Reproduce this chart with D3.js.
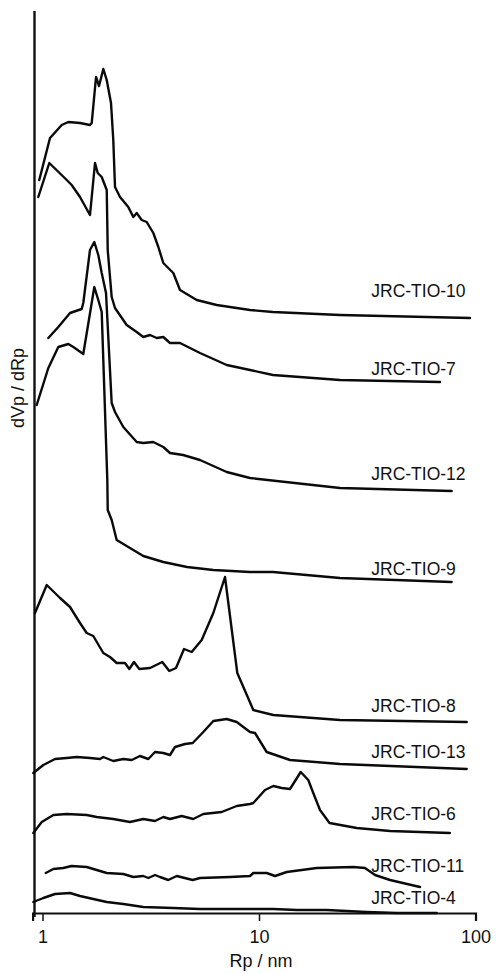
<!DOCTYPE html>
<html>
<head>
<meta charset="utf-8">
<script src="https://cdn.jsdelivr.net/npm/d3@7/dist/d3.min.js"></script>
<style>
  html, body { margin: 0; padding: 0; background: #fff; }
  svg { display: block; }
  text { font-family: "Liberation Sans", Arial, sans-serif; fill: #111; }
</style>
</head>
<body>
<svg id="chart" width="501" height="974"></svg>
<script>
// Pore size distributions, stacked (offset) curves: [Rp in nm, dVp/dRp + offset, arbitrary units]
const sampleNames = ["JRC-TIO-10", "JRC-TIO-7", "JRC-TIO-12", "JRC-TIO-9", "JRC-TIO-8",
                     "JRC-TIO-13", "JRC-TIO-6", "JRC-TIO-11", "JRC-TIO-4"];

const tio10 = [[0.966,733],[1.083,775],[1.227,788],[1.316,791],[1.49,790],[1.657,788],[1.688,790],
  [1.767,836],[1.824,827],[1.909,844],[1.98,833],[2.072,810],[2.123,773],[2.162,726],[2.28,716],
  [2.49,706],[2.627,696],[2.723,700],[2.872,693],[3.029,691],[3.25,680],[3.428,666],[3.614,650],
  [4.02,640],[4.316,623],[5.155,613],[6.377,608],[9.088,603],[11.6,601],[23.67,598],[94.3,595]];

const tio7 = [[0.956,716],[1.075,750],[1.294,733],[1.364,728],[1.49,716],[1.657,698],[1.748,750],
  [1.799,740],[1.877,736],[1.98,723],[2.001,663],[2.087,616],[2.162,605],[2.448,588],[2.723,581],
  [2.921,576],[3.138,578],[3.37,575],[3.614,576],[3.881,570],[4.316,570],[5.34,560],[7.093,548],
  [9.088,543],[11.6,538],[23.67,533],[68.55,531]];

const tio12 = [[1.064,575],[1.183,586],[1.34,600],[1.517,604],[1.543,610],[1.657,663],[1.735,671],
  [1.81,658],[1.877,640],[1.965,620],[2.087,510],[2.162,501],[2.362,486],[2.723,471],[2.921,470],
  [3.25,471],[3.614,466],[3.881,460],[4.46,458],[5.34,453],[7.093,441],[9.088,435],[23.67,425],
  [77.6,422]];

const tio9 = [[0.94,508],[1.064,545],[1.183,566],[1.316,569],[1.388,566],[1.543,559],[1.735,626],
  [1.81,613],[1.877,601],[1.992,433],[2.001,403],[2.087,393],[2.201,373],[2.627,363],[2.921,357],
  [3.614,351],[4.65,346],[6.151,343],[9.088,341],[11.6,341],[23.67,335],[77.6,331]];

const tio8 = [[0.923,300],[1.046,328],[1.205,315],[1.34,306],[1.49,290],[1.6,280],[1.716,277],
  [1.909,260],[2.05,256],[2.201,250],[2.405,250],[2.517,244],[2.646,251],[2.8,244],[3.138,245],
  [3.575,251],[3.852,242],[4.137,245],[4.505,264],[4.888,261],[5.437,273],[6.151,300],[6.966,336],
  [7.939,240],[9.413,203],[11.64,198],[23.67,193],[91.1,191]];

const tio13 = [[0.907,140],[1.009,148],[1.142,154],[1.294,155],[1.439,156],[1.657,155],[1.843,154],
  [1.909,156],[2.123,152],[2.362,154],[2.582,153],[2.82,157],[3.082,154],[3.308,161],[3.614,160],
  [3.881,158],[4.093,166],[4.552,169],[4.941,170],[5.53,181],[6.151,192],[7.093,194],[7.889,191],
  [9.088,181],[9.584,180],[10.85,161],[13.91,153],[23.67,149],[91.1,144]];

const tio6 = [[0.907,80],[0.992,91],[1.122,98],[1.294,99],[1.6,98],[1.78,96],[2.123,94],[2.536,91],
  [2.921,94],[3.308,92],[3.614,96],[3.881,94],[4.395,97],[4.971,94],[5.53,99],[6.725,101],
  [7.889,107],[9.088,109],[9.413,110],[10.66,123],[11.64,127],[12.73,125],[13.91,124],[15.58,141],
  [16.89,133],[17.81,120],[19.13,103],[21.17,90],[28.27,85],[40.29,82],[76.2,80]];

const tio11 = [[1.035,40],[1.122,44],[1.247,45],[1.364,47],[1.6,46],[1.78,43],[1.98,40],[2.362,39],
  [2.627,36],[2.921,37],[3.082,35],[3.308,38],[3.488,36],[3.811,33],[4.168,37],[4.941,33],
  [5.34,35],[7.346,36],[9.088,37],[9.413,40],[10.85,40],[11.86,37],[13.43,41],[18.47,45],
  [27.27,46],[30.87,45],[34.35,38],[40.29,33],[55.41,26]];

const tio4 = [[0.907,11],[1.009,15],[1.142,19],[1.34,20],[1.49,17],[1.716,14],[1.98,11],[2.362,9],
  [2.921,6],[4.0,5],[5.34,4],[9.088,4],[11.64,4],[14.94,3],[20.54,3],[31.45,1],[43.25,0],[66.2,0]];

const seriesValues = [tio10, tio7, tio12, tio9, tio8, tio13, tio6, tio11, tio4];

const majorTicks = [1, 10, 100];
const majorTickLabels = ["1", "10", "100"];
const minorTicks = [2, 3, 4, 5, 6, 7, 8, 9, 20, 30, 40, 50, 60, 70, 80, 90];

// ---- drawing ----
const svg = d3.select("#chart");

const x = d3.scaleLog().domain([0.9, 100]).range([32.6, 475.5]);
const y = d3.scaleLinear().domain([0, 900]).range([913, 13]);

// axes
const gx = svg.append("g").attr("transform", `translate(0,${y(0)})`);
gx.call(d3.axisBottom(x).tickValues(minorTicks).tickSize(4).tickFormat(""))
  .call(g => g.select(".domain").remove());
gx.call(d3.axisBottom(x).tickValues(majorTicks).tickSize(8)
  .tickFormat((d, i) => majorTickLabels[i]));
gx.selectAll("line").attr("stroke", "#111").attr("stroke-width", 1.5);
gx.selectAll(".domain").attr("stroke", "#111").attr("stroke-width", 2.2);
gx.selectAll("text").attr("font-size", 18).attr("dy", "1.05em")
  .style("font-family", '"Liberation Sans", Arial, sans-serif').attr("fill", "#111");

// vertical axis (no ticks)
svg.append("line")
  .attr("x1", 34.5).attr("x2", 34.5)
  .attr("y1", 11).attr("y2", y(0) + 4)
  .attr("stroke", "#111").attr("stroke-width", 2.4);

// axis titles
svg.append("text")
  .attr("x", (x(1) + x(100)) / 2 + 2).attr("y", 967)
  .attr("text-anchor", "middle").attr("font-size", 18)
  .text("Rp / nm");

svg.append("text")
  .attr("transform", "translate(24,388) rotate(-90)")
  .attr("text-anchor", "middle").attr("font-size", 18)
  .text("dVp / dRp");

// curves
const line = d3.line().x(d => x(d[0])).y(d => y(d[1]));

svg.append("g").selectAll("path")
  .data(seriesValues)
  .join("path")
  .attr("d", line)
  .attr("fill", "none")
  .attr("stroke", "#0a0a0a")
  .attr("stroke-width", 2.4)
  .attr("stroke-linejoin", "round")
  .attr("stroke-linecap", "round");

// sample labels, placed just above each curve's tail
const labelLift = {"JRC-TIO-10": 21, "JRC-TIO-7": 7, "JRC-TIO-12": 11, "JRC-TIO-9": 7,
  "JRC-TIO-8": 10, "JRC-TIO-13": 11, "JRC-TIO-6": 13, "JRC-TIO-11": 15, "JRC-TIO-4": 9};
const labelX = x(33);

svg.append("g").selectAll("text")
  .data(sampleNames)
  .join("text")
  .attr("x", labelX)
  .attr("y", (d, i) => {
    const pts = seriesValues[i];
    const tail = pts[pts.length - 1][1];
    return y(tail) - labelLift[d];
  })
  .attr("font-size", 17.5)
  .text(d => d);
</script>
</body>
</html>
